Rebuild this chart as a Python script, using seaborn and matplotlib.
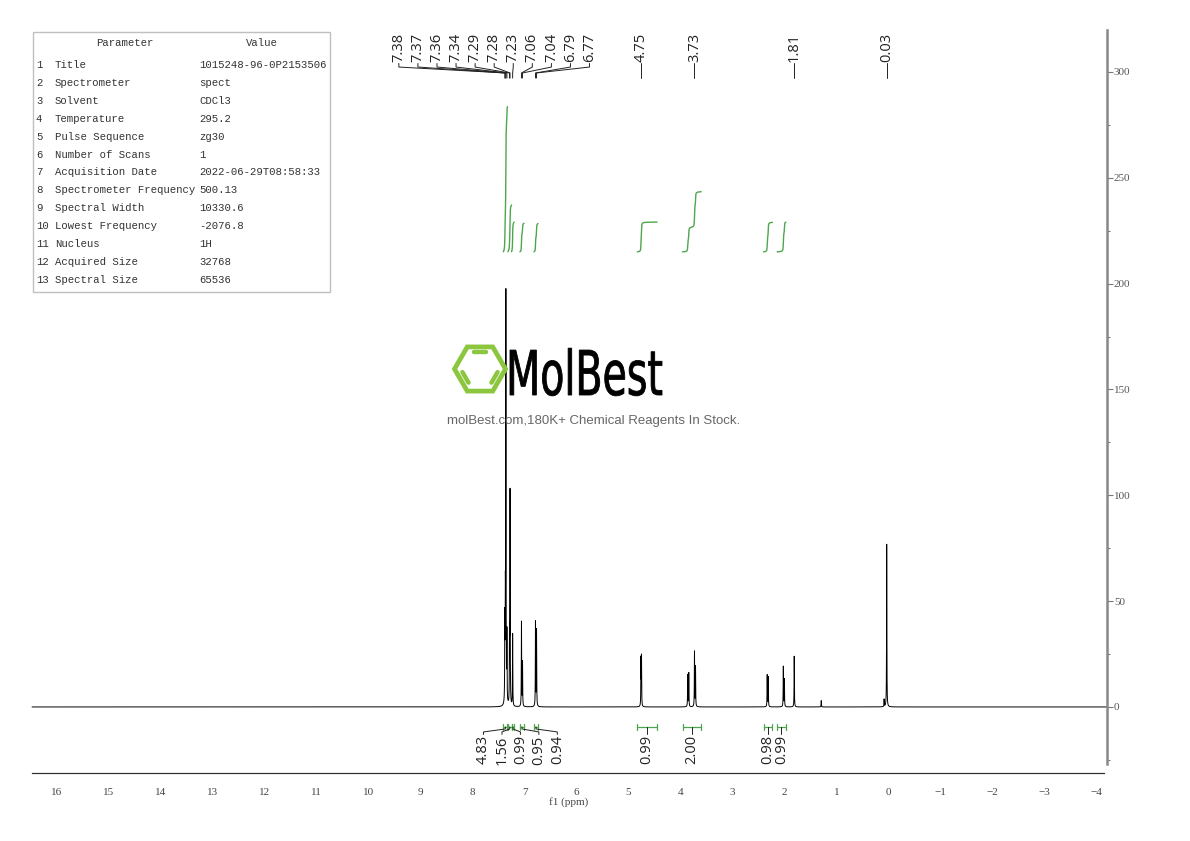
import numpy as np
import pandas as pd
import seaborn as sns
import matplotlib.pyplot as plt
from matplotlib.lines import Line2D
from matplotlib.patches import Rectangle, RegularPolygon, PathPatch
from matplotlib.textpath import TextPath
from matplotlib.font_manager import FontProperties
from matplotlib.transforms import Affine2D, IdentityTransform

# --- data ---------------------------------------------------------------
peak_ppm = [7.38, 7.37, 7.36, 7.34, 7.29, 7.28, 7.23, 7.06, 7.04, 6.79, 6.77,
            4.76, 4.75, 3.86, 3.84, 3.73, 3.71, 2.33, 2.31, 2.02, 2.00, 1.81,
            1.29, 0.08, 0.03]
peak_height = [38, 42, 192, 32, 30, 100, 34, 40, 21, 40, 36,
               22, 23, 15, 16, 26, 19, 15, 14, 19, 13, 24,
               3, 3.5, 77]

group_labels = ["7.38", "7.37", "7.36", "7.34", "7.29", "7.28", "7.23",
                "7.06", "7.04", "6.79", "6.77"]
single_labels = ["4.75", "3.73", "1.81", "0.03"]

integral_values = [4.83, 1.56, 0.99, 0.95, 0.94, 0.99, 2.00, 0.98, 0.99]
integral_start = [7.41, 7.32, 7.25, 7.09, 6.82, 4.83, 3.96, 2.40, 2.14]
integral_end = [7.33, 7.25, 7.20, 7.01, 6.74, 4.45, 3.60, 2.23, 1.97]

param_names = ["Title", "Spectrometer", "Solvent", "Temperature", "Pulse Sequence",
               "Number of Scans", "Acquisition Date", "Spectrometer Frequency",
               "Spectral Width", "Lowest Frequency", "Nucleus", "Acquired Size",
               "Spectral Size"]
param_values = ["1015248-96-0P2153506", "spect", "CDCl3", "295.2", "zg30", "1",
                "2022-06-29T08:58:33", "500.13", "10330.6", "-2076.8", "1H",
                "32768", "65536"]

# --- spectrum built from the peak list ------------------------------------
ppm = np.linspace(16.48, -4.2, 42000)
width = 0.0032
intensity = np.zeros_like(ppm)
for p, h in zip(peak_ppm, peak_height):
    intensity += h * width ** 2 / ((ppm - p) ** 2 + width ** 2)
spec = pd.DataFrame({"ppm": ppm, "intensity": intensity})

sns.set_theme(style="white")
plt.rcParams["font.family"] = ["DejaVu Sans"]
W, H = 1190, 841
fig = plt.figure(figsize=(W / 100, H / 100), dpi=100)
ax = fig.add_axes([31 / W, 1 - 773 / H, (1107 - 31) / W, (773 - 30) / H])

green = "#4da64d"
sns.lineplot(data=spec, x="ppm", y="intensity", ax=ax, color="black",
             linewidth=0.7, estimator=None, sort=False)

ax.set_xlim(16.48, -4.21)
ax.set_ylim(-31.2, 319.8)

# integral curves
unit = 14.2
base = 215
for val, a, b in zip(integral_values, integral_start, integral_end):
    m = (ppm <= a) & (ppm >= b)
    cum = np.cumsum(intensity[m])
    cum = cum / cum[-1] * val * unit
    ax.plot(ppm[m], base + cum, color=green, lw=1.0)

# integral brackets and labels
yb = -9.4
lab_kw = dict(rotation=90, ha="center", va="top", fontsize=10.5,
              family="Open Sans", color="#222")
group_x = 7.79
for i, (val, a, b) in enumerate(zip(integral_values, integral_start, integral_end)):
    c = (a + b) / 2
    ax.plot([a, b], [yb, yb], color=green, lw=0.9)
    ax.plot([a, a], [yb - 1.3, yb + 1.3], color=green, lw=0.9)
    ax.plot([b, b], [yb - 1.3, yb + 1.3], color=green, lw=0.9)
    if i < 5:
        lx = group_x - i * 0.355
        ax.plot([c, c, lx, lx], [yb, -10.4, -11.8, -13.0], color="#222", lw=0.7)
        ax.text(lx, -13.4, f"{val:.2f}", **lab_kw)
    else:
        ax.plot([c, c], [yb, -13.0], color="#222", lw=0.7)
        ax.text(c, -13.4, f"{val:.2f}", **lab_kw)

# peak labels on top
top_kw = dict(rotation=90, ha="center", va="bottom", fontsize=10.5,
              family="Open Sans", color="#222")
for i, lab in enumerate(group_labels):
    lx = 9.42 - i * 0.367
    px = float(lab)
    ax.plot([lx, lx, px, px], [304.0, 302.3, 299.5, 297.1], color="#222", lw=0.7)
    ax.text(lx, 304.6, lab, **top_kw)
for lab in single_labels:
    px = float(lab)
    ax.plot([px, px], [304.0, 297.1], color="#222", lw=0.7)
    ax.text(px, 304.6, lab, **top_kw)

# axes styling
for s in ["top", "left"]:
    ax.spines[s].set_visible(False)
ax.spines["bottom"].set_bounds(16.48, -4.15)
ax.spines["bottom"].set_color("#333")
ax.spines["bottom"].set_linewidth(0.9)
ax.spines["right"].set_color("#888")
ax.spines["right"].set_linewidth(1.8)
ax.spines["right"].set_bounds(-27, 319.8)
ax.yaxis.tick_right()
ax.set_xticks(range(16, -5, -1))
ax.set_xticks(np.arange(16.5, -4.1, -0.5), minor=True)
ax.set_yticks(range(0, 301, 50))
ax.set_yticks(range(-25, 301, 25), minor=True)
ax.tick_params(axis="x", which="major", direction="out", length=6, width=0.8,
               color="#333", labelsize=8, labelcolor="#444", pad=5)
ax.tick_params(axis="x", which="minor", direction="out", length=3.5, width=0.8,
               color="#333")
ax.tick_params(axis="y", which="major", direction="out", length=4, width=0.8,
               color="#777", labelsize=8, labelcolor="#555", pad=1)
ax.tick_params(axis="y", which="minor", direction="out", length=2.5, width=0.8,
               color="#777")
for t in ax.get_xticklabels() + ax.get_yticklabels():
    t.set_family("Liberation Serif")
ax.set_xticklabels([str(v).replace("-", "\u2212") for v in range(16, -5, -1)])
ax.set_xlabel("f1 (ppm)", family="Liberation Serif", fontsize=8, color="#444",
              labelpad=0)
ax.set_ylabel("")


def fx(px):
    return px / W


def fy(py):
    return 1 - py / H


# parameter table
fig.patches.append(Rectangle((fx(33), fy(292)), fx(330) - fx(33), fy(32) - fy(292),
                             transform=fig.transFigure, fill=False,
                             edgecolor="#c0c0c0", lw=1.0))
tkw = dict(family="Liberation Mono", fontsize=7.7, color="#333", va="center")
fig.text(fx(125), fy(43), "Parameter", ha="center", **tkw)
fig.text(fx(262), fy(43), "Value", ha="center", **tkw)
for i, (n, v) in enumerate(zip(param_names, param_values)):
    yy = fy(65 + i * 17.9)
    fig.text(fx(36), yy, str(i + 1), ha="left", **tkw)
    fig.text(fx(55), yy, n, ha="left", **tkw)
    fig.text(fx(199), yy, v, ha="left", **tkw)

# watermark
logo_green = "#8cc63f"
cx, cy, r = 4.80, (H - 369) / 100, 0.255
hexagon = RegularPolygon((cx, cy), 6, radius=r, orientation=np.pi / 6,
                         transform=fig.dpi_scale_trans, fill=False,
                         edgecolor=logo_green, lw=3.4)
fig.patches.append(hexagon)
for a0 in [60, 180, 300]:
    t = np.radians([a0 + 10, a0 + 50])
    rr = r * 0.70
    fig.lines.append(Line2D(cx + rr * np.cos(t), cy + rr * np.sin(t),
                            transform=fig.dpi_scale_trans, color=logo_green,
                            lw=3.2, solid_capstyle="round"))

# condensed "MolBest" word: squeeze a text path horizontally
tp = TextPath((0, 0), "MolBest", size=1, prop=FontProperties(family="DejaVu Sans"))
ext = tp.get_extents()
sx = 152 / ext.width
sy = 45 / 0.73
word = PathPatch(tp, transform=Affine2D().scale(sx, sy).translate(510 - ext.x0 * sx, H - 395)
                 + IdentityTransform(), facecolor="black", edgecolor="black", lw=0.6)
fig.patches.append(word)
fig.text(fx(594), fy(421), "molBest.com,180K+ Chemical Reagents In Stock.",
         family="Liberation Sans", fontsize=9.5, color="#666", ha="center",
         va="center")

fig.savefig("out.png", dpi=100, facecolor="white")
